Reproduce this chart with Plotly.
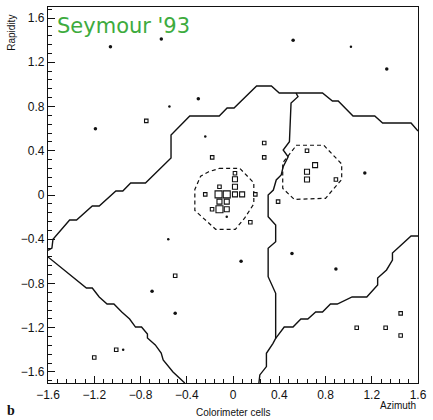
import plotly.graph_objects as go

# ---- data (azimuth, rapidity) ----
# calorimeter cells (open squares) by size class
big_cells_x = [-0.125, -0.054, -0.117]
big_cells_y = [0.006, 0.006, -0.129]

mid_cells_x = [0.017, 0.079, -0.117, -0.054, -0.054, 0.017, 0.017, 0.71, 0.64, 0.64]
mid_cells_y = [0.006, 0.006, -0.06, -0.06, -0.129, 0.142, 0.075, 0.27, 0.21, 0.14]

small_cells_x = [-0.75, -0.18, -0.24, 0.27, 0.27, 0.64, 0.89, 0.39, 0.15, -0.50,
                 -1.01, -1.20, 1.07, 1.32, 1.45, 1.45, 0.193, -0.117, 0.017, -0.181]
small_cells_y = [0.67, 0.34, 0.006, 0.47, 0.34, 0.40, 0.14, -0.06, -0.247, -0.73,
                 -1.40, -1.47, -1.20, -1.20, -1.07, -1.27, 0.006, 0.075, 0.196, -0.129]

# particles (filled dots)
dots_x = [-1.06, -0.62, -1.19, -0.30, 0.52, 1.33, 1.14, 0.07, 0.51, 0.89, -0.70, -0.50]
dots_y = [1.34, 1.41, 0.60, 0.87, 1.40, 1.14, 0.20, -0.60, -0.53, -0.67, -0.87, -1.07]
tiny_x = [-0.55, -0.24, 1.02, -0.054, -0.56, -0.95]
tiny_y = [0.80, 0.53, 1.34, -0.196, -0.40, -1.40]

# jet boundaries (solid)
b1_x = [-1.6, -1.566, -1.557, -1.413, -1.353, -1.26, -1.217, -1.157, -1.013, -0.953,
        -0.885, -0.757, -0.621, -0.536, -0.536, -0.374, -0.119, -0.051, 0.009, 0.204,
        0.332, 0.40, 0.774, 0.86, 0.91, 1.038, 1.226, 1.294, 1.54, 1.60]
b1_y = [-0.50, -0.48, -0.40, -0.226, -0.226, -0.136, -0.10, -0.10, 0.036, 0.036,
        0.108, 0.108, 0.244, 0.335, 0.542, 0.714, 0.714, 0.787, 0.787, 0.986,
        0.986, 0.922, 0.922, 0.85, 0.85, 0.714, 0.714, 0.651, 0.651, 0.579]

b2_x = [0.545, 0.562, 0.502, 0.488, 0.434, 0.477, 0.434, 0.417, 0.374, 0.349, 0.304,
        0.304, 0.369, 0.369, 0.304, 0.304, 0.369, 0.369, 0.346, 0.289, 0.289, 0.232, 0.224]
b2_y = [0.922, 0.889, 0.832, 0.482, 0.407, 0.346, 0.256, 0.181, 0.136, 0.045, 0.0,
        -0.196, -0.271, -0.422, -0.482, -0.739, -0.889, -1.296, -1.341, -1.431, -1.552, -1.627, -1.70]

b3_x = [0.369, 0.443, 0.519, 0.587, 0.647, 0.715, 0.774, 0.843, 0.902, 0.97, 1.03,
        1.157, 1.251, 1.251, 1.328, 1.379, 1.379, 1.54, 1.60]
b3_y = [-1.296, -1.194, -1.194, -1.121, -1.121, -1.058, -1.058, -0.986, -0.986, -0.949, -0.922,
        -0.922, -0.814, -0.750, -0.678, -0.588, -0.524, -0.371, -0.371]

b4_x = [-1.6, -1.268, -1.217, -1.157, -1.089, -1.03, -0.962, -0.894, -0.843, -0.791,
        -0.74, -0.74, -0.672, -0.621, -0.604, -0.519, -0.417]
b4_y = [-0.56, -0.841, -0.841, -0.922, -0.986, -0.986, -1.058, -1.121, -1.194, -1.194,
        -1.257, -1.293, -1.356, -1.429, -1.492, -1.60, -1.70]

# jet cones (dashed)
c1_x = [-0.12, 0.06, 0.18, 0.18, 0.10, 0.02, -0.15, -0.26, -0.33, -0.33, -0.28, -0.21, -0.12]
c1_y = [0.24, 0.24, 0.11, -0.08, -0.21, -0.31, -0.31, -0.21, -0.14, 0.05, 0.17, 0.21, 0.24]
c2_x = [0.545, 0.785, 0.94, 0.94, 0.80, 0.53, 0.43, 0.43, 0.53, 0.545]
c2_y = [0.45, 0.45, 0.28, 0.14, -0.03, -0.04, 0.06, 0.29, 0.425, 0.45]

tick_vals = [-1.6, -1.2, -0.8, -0.4, 0, 0.4, 0.8, 1.2, 1.6]
tick_text = ["\u22121.6", "\u22121.2", "\u22120.8", "\u22120.4", "0", "0.4", "0.8", "1.2", "1.6"]

fig = go.Figure()

for bx, by in [(b1_x, b1_y), (b2_x, b2_y), (b3_x, b3_y), (b4_x, b4_y)]:
    fig.add_trace(go.Scatter(x=bx, y=by, mode="lines",
                             line=dict(color="#111", width=1.4), hoverinfo="skip"))
for cx, cy in [(c1_x, c1_y), (c2_x, c2_y)]:
    fig.add_trace(go.Scatter(x=cx, y=cy, mode="lines",
                             line=dict(color="#111", width=1.2, dash="4px,3px"), hoverinfo="skip"))

fig.add_trace(go.Scatter(x=dots_x, y=dots_y, mode="markers",
                         marker=dict(symbol="circle", size=3.5, color="#111", line=dict(width=0))))
fig.add_trace(go.Scatter(x=tiny_x, y=tiny_y, mode="markers",
                         marker=dict(symbol="circle", size=2.5, color="#111", line=dict(width=0))))
for sx, sy, sz in [(small_cells_x, small_cells_y, 3.5), (mid_cells_x, mid_cells_y, 5),
                   (big_cells_x, big_cells_y, 7)]:
    fig.add_trace(go.Scatter(x=sx, y=sy, mode="markers",
                             marker=dict(symbol="square", size=sz, color="white",
                                         line=dict(color="#111", width=1.1))))

axis_common = dict(
    showgrid=False, zeroline=False, showline=True, linecolor="#111", linewidth=1.2,
    mirror=True, ticks="inside", ticklen=7, tickwidth=1, tickcolor="#111",
    tickvals=tick_vals, ticktext=tick_text,
    tickfont=dict(family="Liberation Sans, Arial", size=12, color="#111"),
    minor=dict(ticks="inside", ticklen=4, tickwidth=1, tickcolor="#111", dtick=0.08, tick0=-1.6),
)

fig.update_layout(
    width=433, height=420, autosize=False,
    margin=dict(l=48, r=9, t=6, b=37),
    paper_bgcolor="white", plot_bgcolor="white",
    showlegend=False,
    xaxis=dict(range=[-1.6, 1.6], **axis_common),
    yaxis=dict(range=[-1.7, 1.7], **axis_common),
)

fig.add_annotation(text="Seymour '93", xref="paper", yref="paper", x=0.02, y=0.987,
                   xanchor="left", yanchor="top", showarrow=False,
                   font=dict(family="DejaVu Sans", size=21, color="#3dab3d"))
fig.add_annotation(text="Rapidity", xref="paper", yref="paper", x=-0.097, y=0.985,
                   xanchor="center", yanchor="top", textangle=-90, showarrow=False,
                   font=dict(family="Liberation Sans, Arial", size=10, color="#111"))
fig.add_annotation(text="Azimuth", xref="paper", yref="paper", x=1.0, y=-0.04,
                   xanchor="right", yanchor="top", showarrow=False,
                   font=dict(family="Liberation Sans, Arial", size=10, color="#111"))
fig.add_annotation(text="Colorimeter cells", xref="paper", yref="paper", x=0.5, y=-0.079,
                   xanchor="center", yanchor="middle", showarrow=False,
                   font=dict(family="Liberation Sans, Arial", size=10, color="#111"))
fig.add_annotation(text="<b>b</b>", xref="paper", yref="paper", x=-0.117, y=-0.073,
                   xanchor="left", yanchor="middle", showarrow=False,
                   font=dict(family="Liberation Serif, Times New Roman", size=14, color="#111"))

fig.write_html("out.html")
